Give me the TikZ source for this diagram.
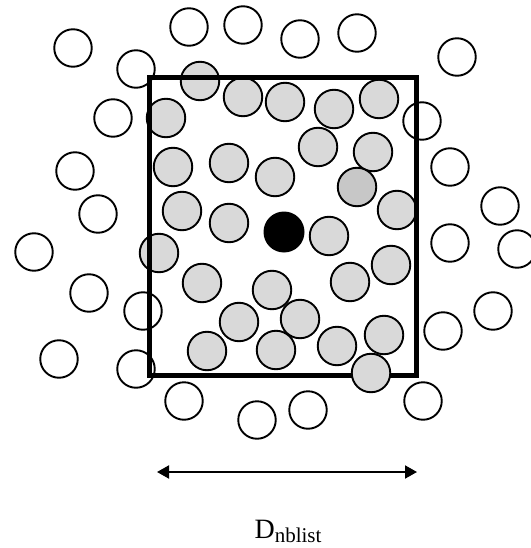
\documentclass[tikz,border=0pt]{standalone}
\usepackage{fontspec}
\setmainfont{Liberation Serif}
\usetikzlibrary{arrows.meta}
\begin{document}
\begin{tikzpicture}[x=1pt,y=-1pt,
  wc/.style={circle,draw=black,fill=white,line width=1.9pt,minimum size=37.5pt,inner sep=0pt},
  gc/.style={circle,draw=black,fill=black!15,line width=1.9pt,minimum size=38.5pt,inner sep=0pt},
  dgc/.style={gc,fill=black!22},
  bc/.style={circle,fill=black,minimum size=41pt,inner sep=0pt},
  boxst/.style={draw=black,line width=5pt,minimum width=266.7pt,minimum height=297.7pt,inner sep=0pt},
  dim/.style={line width=1.9pt,{Triangle[length=12pt,width=13pt]}-{Triangle[length=12pt,width=13pt]}}]
\useasboundingbox (0,0) rectangle (530,548);
% outer white circles
\node[wc] (w1) at (73,48) {};
\node[wc] (w2) at (189,27) {};
\node[wc] (w3) at (243,25) {};
\node[wc] (w4) at (300,39) {};
\node[wc] (w5) at (357,33) {};
\node[wc] (w6) at (457,57) {};
\node[wc] (w7) at (136,69) {};
\node[wc] (w8) at (113,118) {};
\node[wc] (w9) at (422,121) {};
\node[wc] (w10) at (450,167) {};
\node[wc] (w11) at (75,171) {};
\node[wc] (w12) at (500,206) {};
\node[wc] (w13) at (98,214) {};
\node[wc] (w14) at (450,243) {};
\node[wc] (w15) at (517,249) {};
\node[wc] (w16) at (34,252) {};
\node[wc] (w17) at (89,293) {};
\node[wc] (w18) at (143,311) {};
\node[wc] (w19) at (493,311) {};
\node[wc] (w20) at (443,331) {};
\node[wc] (w21) at (59,359) {};
\node[wc] (w22) at (136,369) {};
\node[wc] (w23) at (184,401) {};
\node[wc] (w24) at (257,420) {};
\node[wc] (w25) at (308,410) {};
\node[wc] (w26) at (423,401) {};
% inner gray circles
\node[gc] (g1) at (200,81) {};
\node[gc] (g2) at (243,97) {};
\node[gc] (g3) at (285,102) {};
\node[gc] (g4) at (334,109) {};
\node[gc] (g5) at (379,99) {};
\node[gc] (g6) at (166,118) {};
\node[gc] (g7) at (318,147) {};
\node[gc] (g8) at (373,152) {};
\node[gc] (g9) at (173,167) {};
\node[gc] (g10) at (229,163) {};
\node[gc] (g11) at (275,177) {};
\node[dgc] (g12) at (357,187) {};
\node[gc] (g13) at (182,211) {};
\node[gc] (g14) at (229,223) {};
\node[gc] (g15) at (397,210) {};
\node[gc] (g16) at (329,236) {};
\node[gc] (g17) at (159,253) {};
\node[gc] (g18) at (202,283) {};
\node[gc] (g19) at (350,282) {};
\node[gc] (g20) at (391,265) {};
\node[gc] (g21) at (272,290) {};
\node[gc] (g22) at (239,322) {};
\node[gc] (g23) at (300,319) {};
\node[gc] (g24) at (207,351) {};
\node[gc] (g25) at (276,350) {};
\node[gc] (g26) at (337,346) {};
\node[gc] (g27) at (384,335) {};
% central particle
\node[bc] (c) at (284,232) {};
% neighbour-list box
\node[boxst] (box) at (283.3,226.8) {};
\node[gc] (g28) at (371,373) {};
% dimension arrow
\coordinate (al) at (157,472);
\coordinate (ar) at (417,472);
\draw[dim] (al) -- (ar);
\node[anchor=base,inner sep=0pt] (lab) at (288,538) {\fontsize{28}{30}\selectfont D\raisebox{-4pt}{\fontsize{21}{23}\selectfont nblist}};
\end{tikzpicture}
\end{document}
